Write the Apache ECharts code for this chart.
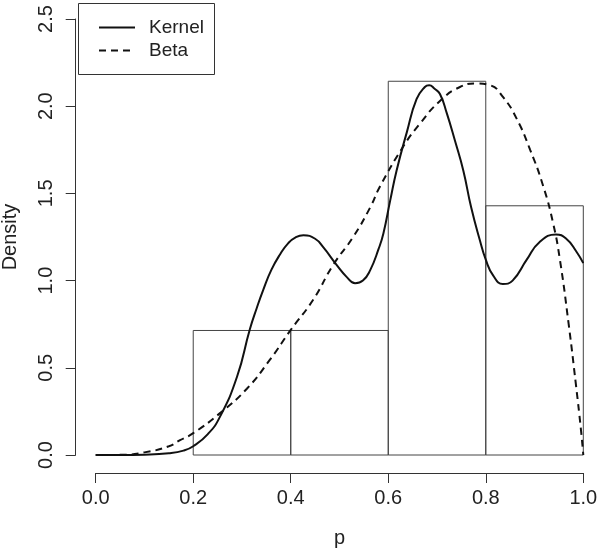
<!DOCTYPE html>
<html>
<head>
<meta charset="utf-8">
<title>Density</title>
<script src="https://cdn.jsdelivr.net/npm/echarts@6/dist/echarts.min.js"></script>
<style>
  html, body { margin: 0; padding: 0; background: #fff; }
  #chart { width: 600px; height: 549px; }
</style>
</head>
<body>
<div id="chart"></div>
<script>
// histogram bins (density scale)
const binEdges = [0.2, 0.4, 0.6, 0.8, 1.0]
const binDensity = [0.714, 0.714, 2.143, 1.429]

// kernel density estimate
const kernelP = [0, 0.05, 0.1, 0.15, 0.18, 0.2, 0.23, 0.255, 0.29, 0.316, 0.33, 0.344, 0.36, 0.378, 0.395, 0.41, 0.426, 0.45, 0.467, 0.494, 0.515, 0.532, 0.548, 0.563, 0.58, 0.59, 0.604, 0.617, 0.638, 0.658, 0.675, 0.684, 0.695, 0.706, 0.72, 0.737, 0.754, 0.77, 0.788, 0.8, 0.815, 0.835, 0.855, 0.884, 0.91, 0.944, 0.965, 0.985, 1.0]
const kernelD = [0, 0, 0.002, 0.01, 0.025, 0.05, 0.12, 0.22, 0.45, 0.72, 0.84, 0.95, 1.06, 1.15, 1.215, 1.248, 1.26, 1.24, 1.19, 1.09, 1.02, 0.985, 1.0, 1.06, 1.18, 1.27, 1.46, 1.63, 1.85, 2.04, 2.11, 2.12, 2.1, 2.07, 1.96, 1.8, 1.63, 1.42, 1.23, 1.12, 1.03, 0.98, 1.0, 1.12, 1.22, 1.265, 1.24, 1.17, 1.1]

// fitted beta density
const betaP = [0, 0.05, 0.1, 0.15, 0.173, 0.2, 0.255, 0.31, 0.357, 0.4, 0.446, 0.487, 0.528, 0.563, 0.583, 0.631, 0.665, 0.706, 0.747, 0.781, 0.809, 0.836, 0.863, 0.891, 0.918, 0.938, 0.952, 0.97, 0.985, 0.995, 1.0]
const betaD = [0, 0.001, 0.015, 0.05, 0.085, 0.125, 0.24, 0.38, 0.545, 0.717, 0.89, 1.09, 1.25, 1.42, 1.54, 1.77, 1.9, 2.03, 2.11, 2.13, 2.12, 2.05, 1.93, 1.75, 1.54, 1.33, 1.12, 0.75, 0.4, 0.15, 0]

const xTicks = [0, 0.2, 0.4, 0.6, 0.8, 1.0]
const yTicks = [0, 0.5, 1.0, 1.5, 2.0, 2.5]

const font = 'Liberation Sans, Arial, sans-serif'
const ink = '#222'

const histData = binDensity.map((d, i) => [binEdges[i], binEdges[i + 1], d])
const kernelData = kernelP.map((p, i) => [p, kernelD[i]])
const betaData = betaP.map((p, i) => [p, betaD[i]])

const chart = echarts.init(document.getElementById('chart'), null, { renderer: 'canvas' })

chart.setOption({
  animation: false,
  backgroundColor: '#fff',
  textStyle: { fontFamily: font },
  grid: {
    left: 95.7,
    right: 16.7,
    top: 19,
    bottom: 94,
    containLabel: false,
    outerBoundsMode: 'none'
  },
  xAxis: {
    type: 'value',
    min: xTicks[0],
    max: xTicks[xTicks.length - 1],
    interval: 0.2,
    offset: 18,
    name: 'p',
    nameLocation: 'middle',
    nameGap: 55,
    nameTextStyle: { fontSize: 20, color: ink, fontFamily: font },
    axisLine: { onZero: false, lineStyle: { color: '#333', width: 1 } },
    axisTick: { length: 10, lineStyle: { color: '#333' } },
    axisLabel: {
      margin: 15,
      fontSize: 20,
      color: ink,
      fontFamily: font,
      formatter: v => v.toFixed(1)
    },
    splitLine: { show: false }
  },
  yAxis: {
    type: 'value',
    min: yTicks[0],
    max: yTicks[yTicks.length - 1],
    interval: 0.5,
    offset: 20,
    name: 'Density',
    nameLocation: 'middle',
    nameRotate: 90,
    nameGap: 55,
    nameTextStyle: { fontSize: 20, color: ink, fontFamily: font },
    axisLine: { show: true, onZero: false, lineStyle: { color: '#333', width: 1 } },
    axisTick: { show: true, length: 10, lineStyle: { color: '#333' } },
    axisLabel: {
      rotate: 90,
      margin: 19,
      fontSize: 20,
      color: ink,
      fontFamily: font,
      formatter: v => v.toFixed(1)
    },
    splitLine: { show: false }
  },
  legend: {
    orient: 'vertical',
    left: 93,
    top: 13,
    itemWidth: 36,
    itemHeight: 14,
    itemGap: 4,
    itemStyle: { opacity: 0 },
    textStyle: { fontSize: 19, color: ink, fontFamily: font, padding: [0, 0, 0, 9] },
    data: ['Kernel', 'Beta']
  },
  // legend frame, like R's legend box
  graphic: [
    {
      type: 'rect',
      left: 76,
      top: 1,
      shape: { width: 136, height: 71 },
      style: { fill: 'none', stroke: '#333', lineWidth: 1 },
      z: 10
    }
  ],
  series: [
    {
      name: 'hist',
      type: 'custom',
      data: histData,
      renderItem: function(params, api) {
        const a = api.coord([api.value(0), api.value(2)])
        const b = api.coord([api.value(1), 0])
        return {
          type: 'rect',
          shape: { x: a[0], y: a[1], width: b[0] - a[0], height: b[1] - a[1] },
          style: { fill: 'none', stroke: '#444', lineWidth: 1 }
        }
      },
      z: 1
    },
    {
      name: 'Kernel',
      type: 'line',
      data: kernelData,
      smooth: true,
      symbol: 'none',
      lineStyle: { color: '#111', width: 2 },
      itemStyle: { color: '#111' },
      z: 3
    },
    {
      name: 'Beta',
      type: 'line',
      data: betaData,
      smooth: true,
      symbol: 'none',
      lineStyle: { color: '#111', width: 2, type: [7, 5] },
      itemStyle: { color: '#111' },
      z: 3
    }
  ]
})
</script>
</body>
</html>
